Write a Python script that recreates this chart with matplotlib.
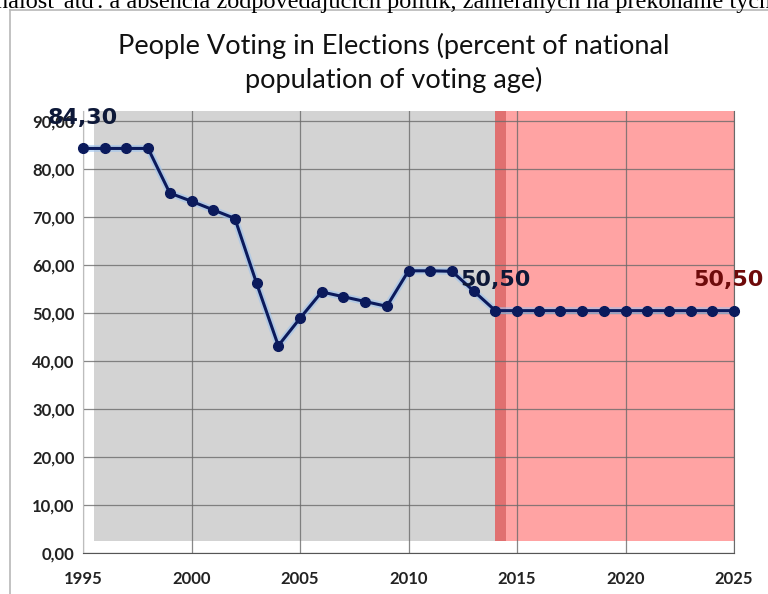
import matplotlib
matplotlib.use("Agg")
import matplotlib.pyplot as plt
import matplotlib.patches as patches
from matplotlib.lines import Line2D
import numpy as np

plt.rcParams.update({
    "font.family": ["Lato", "DejaVu Sans"],
    "axes.unicode_minus": False,
})

# data
years = list(range(1995, 2026))
turnout = [84.3, 84.3, 84.3, 84.3, 75.0, 73.3, 71.5, 69.7, 56.2, 43.2,
           48.9, 54.4, 53.4, 52.4, 51.4, 58.8, 58.8, 58.7, 54.6, 50.5,
           50.5, 50.5, 50.5, 50.5, 50.5, 50.5, 50.5, 50.5, 50.5, 50.5, 50.5]
x_ticks = [1995, 2000, 2005, 2010, 2015, 2020, 2025]
y_ticks = [0, 10, 20, 30, 40, 50, 60, 70, 80, 90]
past_span = (1995.5, 2014.0)
band_span = (2014.0, 2014.5)
future_span = (2014.5, 2025.0)
label_years = [1995, 2014, 2025]
label_texts = ["84,30", "50,50", "50,50"]

TITLE = "People Voting in Elections (percent of national\npopulation of voting age)"
CUT_TEXT = "nalosť atď. a absencia zodpovedajúcich politík, zameraných na prekonanie tých"

fig = plt.figure(figsize=(7.68, 5.94), dpi=100)

# clipped text line from the page above the chart
fig.text(0.5, 1 - 8 / 594, CUT_TEXT, ha="center", va="baseline",
         family=["Liberation Serif", "DejaVu Serif"], fontsize=17.5, color="black")

# grey frame of the pasted chart
fig.add_artist(Line2D([10 / 768, 10 / 768], [0, 1 - 10 / 594], transform=fig.transFigure,
                      color="#b8b8b8", lw=1.2))
fig.add_artist(Line2D([10 / 768, 1], [1 - 10 / 594, 1 - 10 / 594], transform=fig.transFigure,
                      color="#b8b8b8", lw=1.2))

fig.text(394 / 768, 1 - 63 / 594, TITLE, ha="center", va="center",
         fontsize=19.5, color="#111111", linespacing=1.35)

ax = fig.add_axes([83 / 768, 41 / 594, 651 / 768, 442 / 594])
ax.set_xlim(1995, 2025)
ax.set_ylim(0, 92.1)

# shaded regions
ax.add_patch(patches.Rectangle((past_span[0], 2.6), past_span[1] - past_span[0], 89.5,
                               facecolor="#d3d3d3", edgecolor="none", zorder=0.2))
ax.add_patch(patches.Rectangle((future_span[0], 2.6), future_span[1] - future_span[0], 89.5,
                               facecolor="#ffa3a3", edgecolor="none", zorder=0.2))
ax.add_patch(patches.Rectangle((band_span[0], 2.6), band_span[1] - band_span[0], 89.5,
                               facecolor="#e07070", edgecolor="none", zorder=0.2))

ax.set_axisbelow(True)
ax.grid(True, color="#6a6a6a", lw=0.9, alpha=0.8)
ax.set_xticks(x_ticks)
ax.set_yticks(y_ticks)
ax.set_yticklabels([f"{v:.2f}".replace(".", ",") for v in y_ticks])
ax.tick_params(length=0, labelsize=12, colors="#222222", pad=6)
for lbl in ax.get_xticklabels() + ax.get_yticklabels():
    lbl.set_fontweight("bold")
ax.tick_params(axis="x", pad=13)

ax.spines["top"].set_visible(False)
ax.spines["bottom"].set_color("#555555")
ax.spines["left"].set_color("#bdbdbd")
ax.spines["right"].set_color("#6a6a6a")

# line with a soft glow under it
ax.plot(years, turnout, color="#9cc3ef", lw=5, alpha=0.6, zorder=3, clip_on=False)
ax.plot(years, turnout, color="#0b1a5c", lw=2.2, marker="o", markersize=7,
        zorder=4, clip_on=False)

# data labels: the last one is dark red and nudged left to stay inside
label_colors = ["#0d1838", "#0d1838", "#6e0a0a"]
label_dx = [0, 0, -4]
for yr, txt, col, dx in zip(label_years, label_texts, label_colors, label_dx):
    val = turnout[years.index(yr)]
    ax.annotate(txt, (yr, val), xytext=(dx, 22), textcoords="offset points",
                ha="center", va="center", fontsize=16, fontweight="heavy",
                family="DejaVu Sans", color=col, zorder=5, annotation_clip=False)

fig.savefig("out.png", dpi=100)
